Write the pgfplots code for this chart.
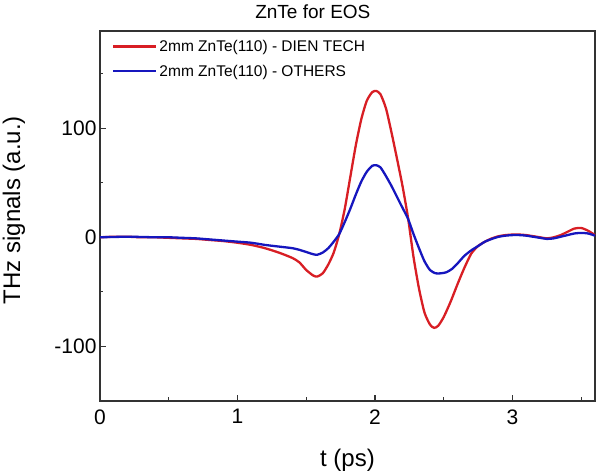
\documentclass[border=0pt]{standalone}
\usepackage{fontspec}
\setmainfont{Liberation Sans}
\usepackage{pgfplots}
\pgfplotsset{compat=1.18}
\definecolor{cred}{RGB}{216,30,36}
\definecolor{cblue}{RGB}{22,22,190}
\begin{document}
\begin{tikzpicture}
\begin{axis}[
 scale only axis, width=495pt, height=370pt,
 xmin=0, xmax=3.6, ymin=-150, ymax=189,
 xtick={0,1,2,3}, ytick={-100,0,100},
 minor xtick={0.5,1.5,2.5,3.5}, minor ytick={-150,-50,50,150},
 tick pos=left, tick align=inside,
 major tick length=6pt, minor tick length=3.5pt,
 every tick/.style={black!80, line width=1.1pt},
 axis line style={black!80, line width=1.4pt},
 /pgf/number format/assume math mode=true,
 ticklabel style={font=\fontsize{21}{25}\selectfont},
 xticklabel style={yshift=-5pt},
 xlabel={t (ps)}, ylabel={THz signals (a.u.)},
 label style={font=\fontsize{24}{28}\selectfont, inner sep=0pt},
 xlabel style={at={(axis description cs:0.5,-0.159)}, anchor=center},
 ylabel style={at={(axis description cs:-0.1738,0.516)}, anchor=center},
 legend style={draw=none, fill=none, at={(axis description cs:0,1)}, anchor=north west,
   xshift=12pt, yshift=-7pt, font=\fontsize{15.5}{18}\selectfont, row sep=8pt,
   inner sep=0pt, nodes={inner sep=2pt}},
 legend cell align=left,
 legend image code/.code={\draw[#1] (0pt,0pt) -- (43pt,0pt);},
 clip=false,
]
\addplot[cred, line width=2.3pt, smooth, tension=0.4] coordinates {
(0.00,0) (0.10,0.5) (0.20,0.5) (0.30,0) (0.40,0) (0.50,-0.5) (0.60,-1) (0.70,-1.5)
(0.80,-2.5) (0.90,-3.5) (1.00,-5) (1.10,-7) (1.20,-10) (1.30,-14) (1.40,-19) (1.45,-23)
(1.50,-30) (1.55,-35) (1.58,-36) (1.62,-33) (1.66,-25) (1.70,-14) (1.74,3) (1.78,26)
(1.82,55) (1.86,84) (1.90,108) (1.94,125) (1.98,133) (2.01,134) (2.04,131) (2.08,118)
(2.12,96) (2.16,72) (2.20,47) (2.24,18) (2.28,-18) (2.32,-47) (2.36,-69) (2.40,-80)
(2.43,-83) (2.46,-81) (2.50,-73) (2.55,-59) (2.60,-43) (2.65,-28) (2.70,-15) (2.75,-8)
(2.80,-4) (2.85,-1) (2.90,1) (2.95,2) (3.00,2.5) (3.05,2.5) (3.10,2) (3.15,1) (3.20,0)
(3.25,-1) (3.30,0) (3.35,2) (3.40,5) (3.45,8) (3.50,8.5) (3.55,6) (3.60,2)
};
\addlegendentry{2mm ZnTe(110) - DIEN TECH}
\addplot[cblue, line width=2.3pt, smooth, tension=0.4] coordinates {
(0.00,0) (0.10,0.3) (0.20,0.5) (0.30,0.3) (0.40,0) (0.50,0) (0.60,-0.5) (0.70,-1)
(0.80,-2) (0.90,-3) (1.00,-4) (1.10,-5) (1.20,-7) (1.30,-8.5) (1.40,-10) (1.45,-11.5)
(1.50,-13.5) (1.55,-15.5) (1.58,-16) (1.62,-14) (1.66,-10) (1.70,-4) (1.74,3) (1.78,14)
(1.82,26) (1.86,39) (1.90,51) (1.94,60) (1.98,65.5) (2.01,66) (2.04,64) (2.08,56)
(2.12,47) (2.16,37) (2.20,27) (2.24,17) (2.28,3) (2.32,-10) (2.36,-22) (2.40,-30)
(2.44,-33) (2.48,-33) (2.52,-32) (2.56,-29) (2.60,-24) (2.65,-17) (2.70,-12) (2.75,-8)
(2.80,-4) (2.85,-1.5) (2.90,0.5) (2.95,1.5) (3.00,2) (3.05,2) (3.10,1.5) (3.15,0.5)
(3.20,-0.5) (3.25,-1.5) (3.30,-1) (3.35,0.5) (3.40,2) (3.45,3.5) (3.50,4) (3.55,3.5) (3.60,1.5)
};
\addlegendentry{2mm ZnTe(110) - OTHERS}
\node[anchor=base, inner sep=0pt, yshift=12pt, font=\fontsize{19}{22}\selectfont] at (rel axis cs:0.43,1) {ZnTe for EOS};
\end{axis}
\pgfresetboundingbox
\path[use as bounding box] (-100pt,-70pt) rectangle (500pt,401pt);
\end{tikzpicture}
\end{document}
